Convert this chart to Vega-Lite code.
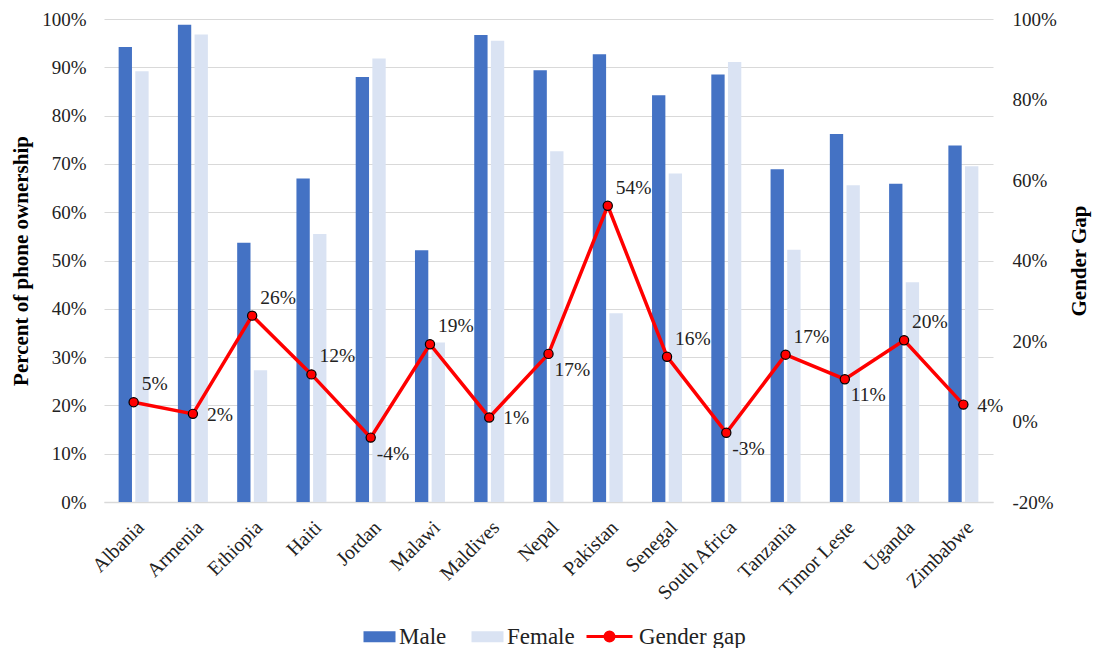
{
  "$schema": "https://vega.github.io/schema/vega-lite/v6.json",
  "width": 889,
  "height": 483,
  "autosize": {"type": "none"},
  "padding": {"left": 104, "top": 19, "right": 100, "bottom": 146},
  "background": "white",
  "data": {
    "values": [
      {"country": "Albania", "Male": 0.942, "Female": 0.892, "gap": 0.048},
      {"country": "Armenia", "Male": 0.988, "Female": 0.968, "gap": 0.019},
      {"country": "Ethiopia", "Male": 0.537, "Female": 0.273, "gap": 0.263},
      {"country": "Haiti", "Male": 0.670, "Female": 0.555, "gap": 0.117},
      {"country": "Jordan", "Male": 0.880, "Female": 0.918, "gap": -0.040},
      {"country": "Malawi", "Male": 0.521, "Female": 0.330, "gap": 0.192},
      {"country": "Maldives", "Male": 0.967, "Female": 0.955, "gap": 0.010},
      {"country": "Nepal", "Male": 0.894, "Female": 0.726, "gap": 0.168},
      {"country": "Pakistan", "Male": 0.927, "Female": 0.391, "gap": 0.536},
      {"country": "Senegal", "Male": 0.842, "Female": 0.680, "gap": 0.161},
      {"country": "South Africa", "Male": 0.885, "Female": 0.911, "gap": -0.028},
      {"country": "Tanzania", "Male": 0.689, "Female": 0.522, "gap": 0.166},
      {"country": "Timor Leste", "Male": 0.762, "Female": 0.656, "gap": 0.105},
      {"country": "Uganda", "Male": 0.659, "Female": 0.455, "gap": 0.202},
      {"country": "Zimbabwe", "Male": 0.738, "Female": 0.695, "gap": 0.042}
    ]
  },
  "layer": [
    {
      "transform": [{"fold": ["Male", "Female"], "as": ["sex", "pct"]}],
      "mark": {"type": "bar"},
      "encoding": {
        "x": {
          "field": "country",
          "type": "nominal",
          "sort": null,
          "scale": {"paddingInner": 0.494, "paddingOuter": 0.247},
          "axis": {
            "title": null,
            "labelAngle": -45,
            "labelFontSize": 20,
            "labelPadding": 15,
            "domain": true,
            "domainColor": "#D9D9D9",
            "domainWidth": 1.5,
            "ticks": false
          }
        },
        "xOffset": {
          "field": "sex",
          "type": "nominal",
          "sort": ["Male", "Female"],
          "scale": {"paddingInner": 0.2}
        },
        "y": {
          "field": "pct",
          "type": "quantitative",
          "scale": {"domain": [0, 1], "nice": false},
          "axis": {
            "title": "Percent of phone ownership",
            "values": [0, 0.1, 0.2, 0.3, 0.4, 0.5, 0.6, 0.7, 0.8, 0.9, 1],
            "format": ".0%",
            "grid": true,
            "gridColor": "#D9D9D9",
            "gridWidth": 1.2,
            "domain": false,
            "ticks": false,
            "labelFontSize": 19,
            "labelPadding": 18,
            "titleFontSize": 21,
            "titleFontWeight": "bold",
            "titlePadding": 10
          }
        },
        "fill": {
          "field": "sex",
          "type": "nominal",
          "scale": {"domain": ["Male", "Female"], "range": ["#4472C4", "#DAE3F3"]},
          "legend": {
            "title": null,
            "orient": "none",
            "legendX": 264,
            "legendY": 606,
            "direction": "horizontal",
            "symbolType": "M-3.2,-1.1H3.2V1.1H-3.2Z",
            "symbolSize": 100,
            "symbolStrokeWidth": 0,
            "labelOffset": 8,
            "columnPadding": 24
          }
        }
      }
    },
    {
      "encoding": {
        "x": {"field": "country", "type": "nominal", "sort": null},
        "y": {
          "field": "gap",
          "type": "quantitative",
          "scale": {"domain": [-0.2, 1], "nice": false},
          "axis": {
            "orient": "right",
            "title": "Gender Gap",
            "titleAngle": 270,
            "values": [-0.2, 0, 0.2, 0.4, 0.6, 0.8, 1],
            "format": ".0%",
            "labelExpr": "replace(datum.label, '\u2212', '-')",
            "grid": false,
            "domain": false,
            "ticks": false,
            "labelFontSize": 19,
            "labelPadding": 19,
            "titleFontSize": 21,
            "titleFontWeight": "bold",
            "titlePadding": 33
          }
        }
      },
      "layer": [
        {
          "mark": {"type": "line", "strokeWidth": 3.5},
          "encoding": {
            "stroke": {
              "datum": "Gender gap",
              "scale": {"range": ["#FF0000"]},
              "legend": {
                "title": null,
                "orient": "none",
                "legendX": 494,
                "legendY": 606,
                "symbolType": "M-4.6,0H4.6M0.9,0A0.9,0.9 0 1,1 -0.9,0A0.9,0.9 0 1,1 0.9,0Z",
                "symbolSize": 100,
                "symbolStrokeWidth": 3,
                "symbolFillColor": "#FF0000",
                "labelOffset": 18
              }
            }
          }
        },
        {
          "mark": {"type": "point", "filled": true, "fill": "#FF0000", "stroke": "#000000", "strokeWidth": 1.2, "size": 85, "opacity": 1}
        },
        {
          "transform": [
            {"filter": {"field": "country", "oneOf": ["Albania", "Ethiopia", "Haiti", "Malawi", "Pakistan", "Senegal", "Tanzania", "Uganda"]}},
            {"calculate": "replace(format(datum.gap, '.0%'), '\u2212', '-')", "as": "label"}
          ],
          "mark": {"type": "text", "align": "left", "baseline": "bottom", "dx": 8, "dy": -8, "fontSize": 19.5, "font": "Liberation Serif", "color": "#222222"},
          "encoding": {"text": {"field": "label"}}
        },
        {
          "transform": [
            {"filter": {"field": "country", "oneOf": ["Armenia", "Maldives", "Zimbabwe"]}},
            {"calculate": "replace(format(datum.gap, '.0%'), '\u2212', '-')", "as": "label"}
          ],
          "mark": {"type": "text", "align": "left", "baseline": "middle", "dx": 14, "dy": 1, "fontSize": 19.5, "font": "Liberation Serif", "color": "#222222"},
          "encoding": {"text": {"field": "label"}}
        },
        {
          "transform": [
            {"filter": {"field": "country", "oneOf": ["Jordan", "Nepal", "South Africa", "Timor Leste"]}},
            {"calculate": "replace(format(datum.gap, '.0%'), '\u2212', '-')", "as": "label"}
          ],
          "mark": {"type": "text", "align": "left", "baseline": "top", "dx": 6, "dy": 7, "fontSize": 19.5, "font": "Liberation Serif", "color": "#222222"},
          "encoding": {"text": {"field": "label"}}
        }
      ]
    }
  ],
  "resolve": {"scale": {"y": "independent"}},
  "config": {
    "font": "Liberation Serif",
    "view": {"stroke": null},
    "axis": {
      "labelFont": "Liberation Serif",
      "titleFont": "Liberation Serif",
      "labelColor": "#222222",
      "titleColor": "#000000"
    },
    "legend": {
      "labelFont": "Liberation Serif",
      "labelFontSize": 23,
      "labelColor": "#222222",
      "padding": 0
    }
  }
}
